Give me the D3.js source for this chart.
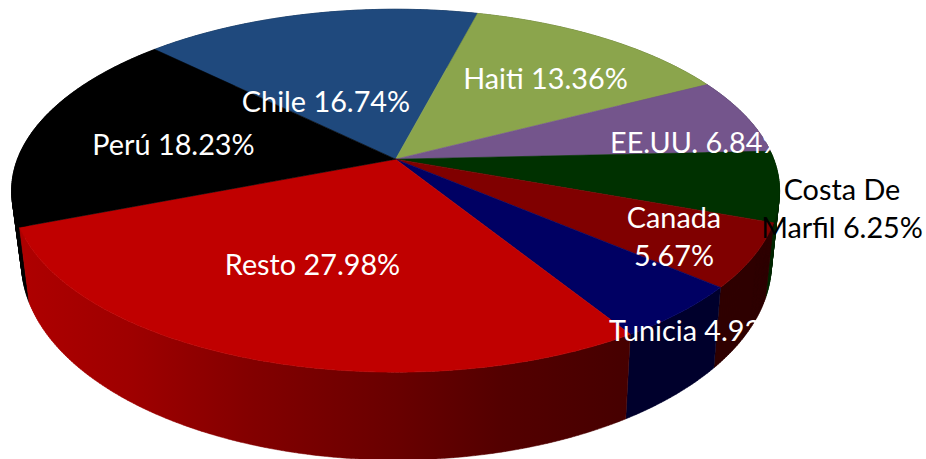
<!DOCTYPE html>
<html>
<head>
<meta charset="utf-8">
<script src="https://cdn.jsdelivr.net/npm/d3@7"></script>
<style>html,body{margin:0;padding:0;background:#fff}svg{display:block}text{font-family:Lato,"Open Sans",sans-serif;font-size:28.8px;font-weight:400}</style>
</head>
<body>
<svg id="c" width="926" height="459"></svg>
<script>
const categories = ["Chile","Haiti","EE.UU.","Costa De Marfil","Canada","Tunicia","Resto","Perú"];
const shares = [16.74,13.36,6.84,6.25,5.67,4.93,27.98,18.23];
const topColors = ["#1f497d","#8ba54c","#74558c","#003100","#800000","#000063","#c00000","#000000"];
const sideColors = ["#10253f","#4f6228","#3f3151","#002800","#2f0000","#00002c","#c00000","#050505"];
const labelLines = [["Chile 16.74%"],["Haiti 13.36%"],["EE.UU. 6.84%"],["Costa De","Marfil 6.25%"],["Canada","5.67%"],["Tunicia 4.93%"],["Resto 27.98%"],["Perú 18.23%"]];
const labelAnchor = [[326,112,"middle"],[545.5,89,"middle"],[610,153,"start"],[842,200,"middle"],[674,228,"middle"],[609,341,"start"],[312.5,275,"middle"],[173.5,155,"middle"]];
const labelFill = ["#fff","#fff","#fff","#000","#fff","#fff","#fff","#fff"];
const lineGap = 38;
const restoSideX = [20,133,250,400,500,628];
const restoSideColor = ["#ae0000","#9e0000","#830000","#680000","#540000","#460000"];

const svg = d3.select("#c");
const cx = 395.6, cy = 159.2, k = -0.1736, rxTop = 384, A = rxTop*Math.sqrt(1-k*k), B = 176;
const topCy = 31.5;                 // ellipse centre below the pie apex
const ryTop = 181.5;
const bot = {cx:396.5, cy:263, rx:375, ry:197};

const pie = d3.pie().sort(null).value(d => d).startAngle(-45.6*Math.PI/180).endAngle((360-45.6)*Math.PI/180);
const arcs = pie(shares);

const bx = d3.scaleLinear().domain([-rxTop,rxTop]).range([bot.cx-bot.rx,bot.cx+bot.rx]);
const by = d3.scaleLinear().domain([topCy-ryTop,topCy+ryTop]).range([bot.cy-bot.ry,bot.cy+bot.ry]);

function rim(t, bottom){
  const u = Math.sin(t), v = -Math.cos(t), w = 1 + k*v;
  const X = A*u/w, Y = B*v/w;
  return bottom ? [bx(X), by(Y)] : [cx + X, cy + Y];
}
function arcPts(a, bottom){
  const n = Math.max(4, Math.ceil((a.endAngle-a.startAngle)/0.01));
  return d3.range(n+1).map(i => rim(a.startAngle + (a.endAngle-a.startAngle)*i/n, bottom));
}
const line = d3.line();

// the wall is the union of small quads, so it also covers the tangent between rims
function wallPath(a){
  const up = arcPts(a,false), dn = arcPts(a,true);
  return d3.range(up.length-1).map(i => {
    const quad = [up[i],up[i+1],dn[i+1],dn[i]];
    return line(d3.polygonArea(quad) < 0 ? quad.slice().reverse() : quad) + "Z";
  }).join("");
}

const defs = svg.append("defs");
const gradX = d3.scaleLinear().domain([restoSideX[0],restoSideX[restoSideX.length-1]]).range([0,1]);
const restoGrad = defs.append("linearGradient").attr("id","restoSide")
  .attr("gradientUnits","userSpaceOnUse").attr("x1",gradX.domain()[0]).attr("x2",gradX.domain()[1]).attr("y1",0).attr("y2",0);
restoSideX.forEach((x,i) => restoGrad.append("stop").attr("offset",gradX(x)).attr("stop-color",restoSideColor[i]));

// walls, back ones first
const wallOrder = d3.range(arcs.length).sort((a,b) => {
  const m = i => Math.cos((arcs[i].startAngle+arcs[i].endAngle)/2);
  return m(b) - m(a);
});
svg.append("g").selectAll("path").data(wallOrder).join("path")
  .attr("d", i => wallPath(arcs[i]))
  .attr("fill", i => categories[i]==="Resto" ? "url(#restoSide)" : sideColors[i])
  .attr("stroke", i => categories[i]==="Resto" ? "url(#restoSide)" : sideColors[i])
  .attr("stroke-width",0.5);

svg.append("g").selectAll("path").data(arcs).join("path")
  .attr("d", a => line([[cx,cy]].concat(arcPts(a,false))) + "Z")
  .attr("fill", (a,i) => topColors[i])
  .attr("stroke", (a,i) => topColors[i])
  .attr("stroke-width",0.6);

const lab = svg.append("g").selectAll("text").data(labelLines).join("text")
  .attr("x",(d,i)=>labelAnchor[i][0]).attr("y",(d,i)=>labelAnchor[i][1])
  .attr("text-anchor",(d,i)=>labelAnchor[i][2]).attr("fill",(d,i)=>labelFill[i]);
lab.selectAll("tspan").data(d=>d).join("tspan")
  .attr("x",function(){return this.parentNode.getAttribute("x")})
  .attr("dy",(d,i)=>i?lineGap:0).text(d=>d);
</script>
</body>
</html>
